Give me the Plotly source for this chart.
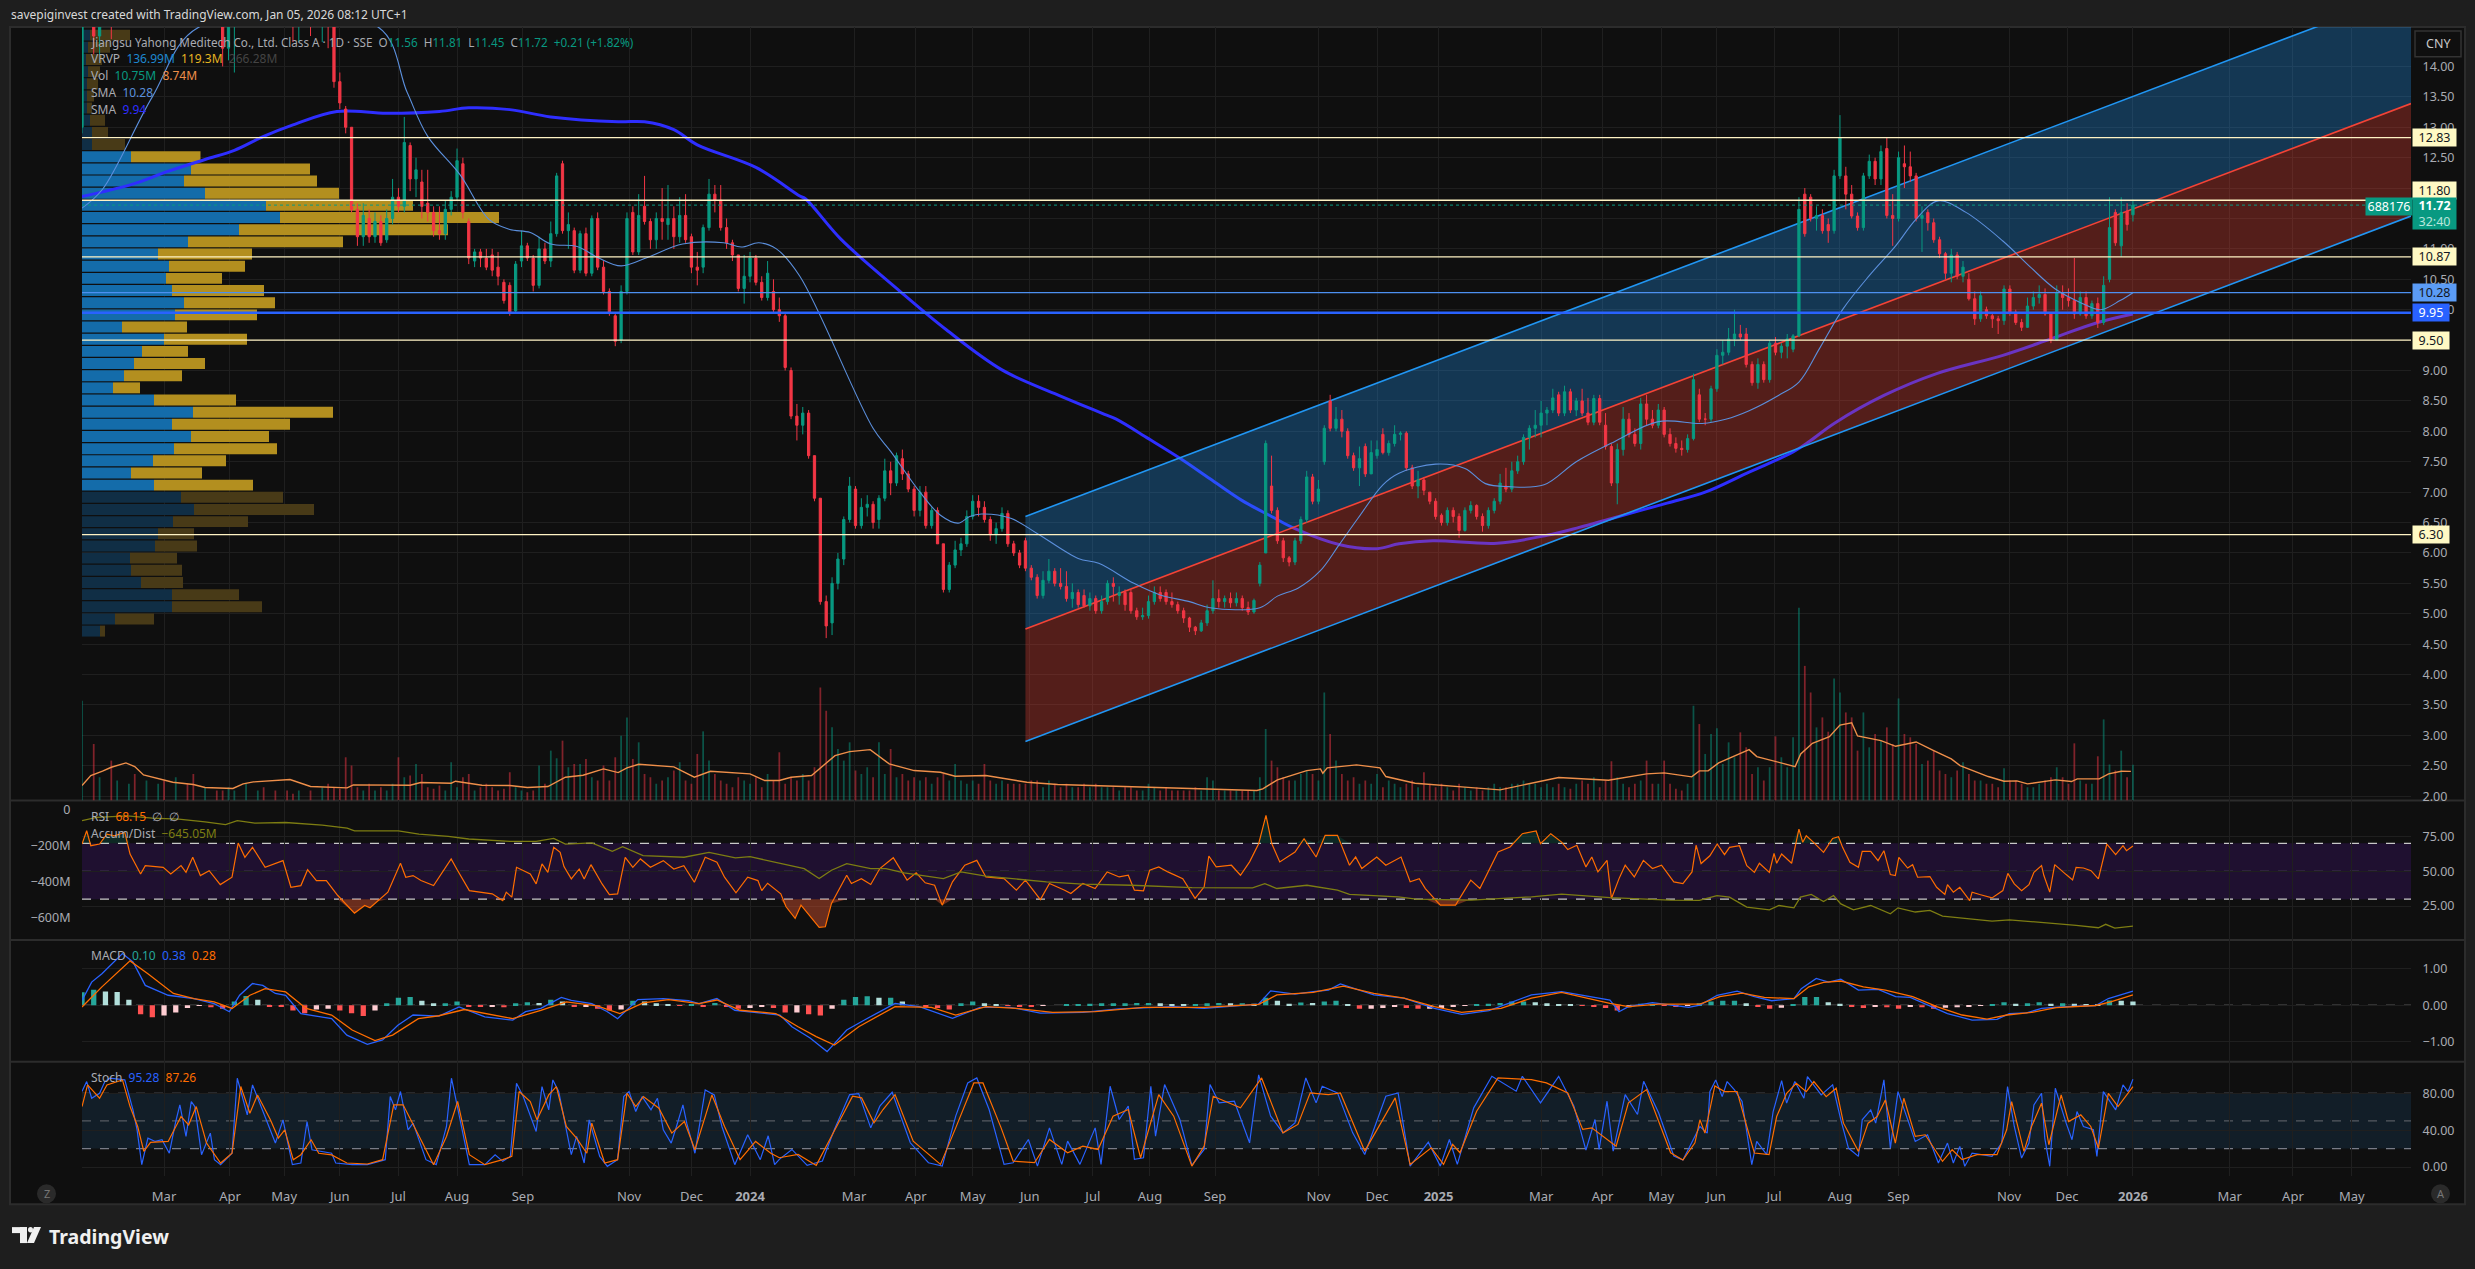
import plotly.graph_objects as go

W, H = 2475, 1269
def px(x): return x / W
def py(y): return 1 - y / H

# ---------- time axis ----------
tick_sessions = [28,50.5,69,88,108,128,150.5,186.7,208,228,263.5,284.6,304,323.5,345,364.5,386.7,422,442,463,498,519,539,557.7,577.5,600,620,657.7,677.5,700,733,754.6,774.7]
tick_labels = ["Mar","Apr","May","Jun","Jul","Aug","Sep","Nov","Dec","<b>2024</b>","Mar","Apr","May","Jun","Jul","Aug","Sep","Nov","Dec","<b>2025</b>","Mar","Apr","May","Jun","Jul","Aug","Sep","Nov","Dec","<b>2026</b>","Mar","Apr","May"]

# ---------- candles ----------
session = [0,4,6,10,12,16,18,22,26,28,32,36,38,42,46,48,50,52,56,60,62,66,70,72,74,78,82,84] + list(range(86, 702, 2))
open_ = [13,15.4,14.5,15.2,14.7,15.4,15.8,15.1,16,16.5,16.2,16.6,15.9,15.5,15.8,15,14.3,15,15.3,15.6,16.2,15.9,15.4,15.1,14.8,15.3,15,15.1,
14.9,13.75,13.3,13,11.65,11.2,11.5,11.2,11.45,11.15,
11.5,11.85,11.7,12.7,12.15,12.1,11.75,11.6,11.3,11.25,
11.65,11.85,12.4,11.45,10.8,10.95,10.85,10.9,10.7,10.45,
10.4,9.98,10.8,11.05,10.85,10.4,11,10.8,11.25,12.4,
11.3,11.3,10.65,11.25,10.6,11.5,10.7,10.3,9.9,9.5,
10.3,11.6,10.95,11.7,11.45,11.15,11.5,11.4,11.5,11.2,
11.55,11.2,10.7,10.7,11.35,11.9,11.8,11.35,11.1,10.9,
10.35,10.55,10.85,10.45,10.2,10.3,10,9.9,9,8.25,
8.1,8.3,7.6,6.9,5.2,4.85,5.5,5.9,6.55,7.05,
6.45,6.75,6.8,6.55,6.9,7.35,7.15,7.55,7.3,7.05,
6.7,7,6.45,6.7,6.15,5.4,5.8,6.05,6.15,6.6,
6.85,6.75,6.55,6.3,6.4,6.65,6.15,6,6.2,5.75,
5.6,5.3,5.55,5.7,5.5,5.45,5.25,5.35,5.3,5.13,
5.25,5.05,5.2,5.5,5.3,5.35,5.35,5.05,4.95,4.97,
5.2,5.35,5.35,5.2,5.15,5.05,4.93,4.78,4.72,4.85,
5.05,5.25,5.2,5.25,5.18,5.25,5.1,5.03,5.5,6,
7.1,6.7,6.2,5.92,5.85,6.2,6.55,7.25,6.85,7.5,
8.5,8.05,8.2,8,7.6,7.4,7.75,7.3,7.6,7.95,
7.65,7.8,7.95,7.97,7.4,7.1,7.2,7,6.85,6.62,
6.5,6.7,6.6,6.37,6.7,6.78,6.6,6.45,6.7,6.85,
7.1,7.05,7.35,7.5,7.9,8.05,8.1,8.3,8.35,8.6,
8.3,8.65,8.35,8.5,8.3,8.15,8.54,8.1,7.75,7.15,
7.7,8.2,7.95,7.8,8.45,8.2,8.1,8.35,7.95,7.8,
7.72,7.7,7.88,8.6,8.2,8.2,8.7,9.25,9.3,9.52,
9.6,9.6,9.1,8.8,9.1,8.85,9.45,9.3,9.4,9.35,
9.57,11.9,11.85,11.5,11.55,11.4,11.3,12.2,12.2,11.9,
11.54,11.35,12.2,12.44,12.15,12.65,11.55,11.5,12.4,12.35,
12.2,11.5,11.6,11.43,11.15,10.92,10.6,10.9,10.55,10.5,
10.18,9.85,10,9.9,9.85,9.82,10.34,9.96,9.79,9.71,
10.06,10.2,10.25,9.93,9.5,10.28,10.2,10.15,9.93,10.2,
9.9,10.1,9.79,10.5,11.6,11.05,11.62,11.56]
high = [15.5,16,15.8,15.8,15.6,16,16.2,16.4,16.8,17,16.9,17,16.4,16,16.2,15.6,15.2,15.6,16,16.5,16.8,16.2,15.8,15.4,15.6,15.7,15.5,15.6,
15.2,13.9,13.35,13,11.75,11.75,11.65,11.6,11.55,11.65,
12.15,12,13.17,12.75,12.5,12.3,12.3,11.7,11.7,11.8,
11.95,12.65,12.5,11.5,11,11,11,11,10.95,10.5,
10.45,10.8,11.3,11.1,10.9,11.2,11.1,11.45,12.25,12.45,
11.6,11.35,11.3,11.35,11.55,11.6,10.8,10.35,9.95,10.4,
11.6,11.7,11.9,12.2,11.5,11.6,12,12.05,11.7,11.85,
11.9,11.25,10.95,11.4,12.15,12.05,12.05,11.5,11.15,10.9,
10.9,10.95,10.9,10.55,10.8,10.5,10.2,9.95,9.05,8.45,
8.4,8.35,7.6,6.9,5.3,5.6,6,6.6,7.25,7.1,
6.9,6.95,6.85,6.95,7.55,7.5,7.65,7.7,7.35,7.1,
7.1,7.1,6.75,6.75,6.15,5.85,6.2,6.25,6.7,6.95,
6.95,6.85,6.6,6.5,6.75,6.7,6.2,6.05,6.25,5.8,
5.65,5.7,5.9,5.75,5.75,5.7,5.5,5.4,5.4,5.35,
5.3,5.3,5.55,5.6,5.45,5.4,5.4,5.1,5.1,5.3,
5.45,5.45,5.4,5.35,5.2,5.1,4.95,4.8,4.9,5.15,
5.55,5.4,5.3,5.35,5.35,5.3,5.2,5.25,5.85,7.85,
7.6,6.75,6.25,5.95,6.25,6.6,7.35,7.3,7.2,8.1,
8.6,8.4,8.35,8.05,7.65,7.75,7.8,7.85,7.85,8.05,
7.85,8.1,8,8,7.45,7.35,7.25,7,6.9,6.65,
6.75,6.75,6.65,6.75,6.85,6.8,6.65,6.75,6.9,7.3,
7.4,7.5,7.6,7.95,8.1,8.35,8.5,8.4,8.7,8.65,
8.75,8.7,8.55,8.7,8.55,8.6,8.6,8.3,7.8,7.8,
8.4,8.3,8.05,8.55,8.6,8.35,8.45,8.4,8.05,7.9,
7.85,7.95,8.95,8.7,8.3,8.75,9.35,9.5,9.7,10,
9.75,9.7,9.15,9.2,9.15,9.5,9.55,9.45,9.6,9.6,
11.85,12,11.9,11.7,11.65,11.5,12.3,13.2,12.35,12.05,
11.6,12.25,12.55,12.5,12.7,12.83,11.9,12.6,12.7,12.6,
12.25,11.7,11.65,11.5,11.2,10.95,11,10.95,10.8,10.6,
10.3,10.3,10.05,9.95,9.9,10.4,10.4,10,9.85,10.2,
10.3,10.4,10.35,9.95,10.4,10.4,10.35,10.85,10.3,10.3,
10.15,10.2,10.55,11.85,11.65,11.85,11.75,11.81]
low = [12.9,14.2,14.2,14.45,14.7,15.1,14.75,14.7,15.6,16,15.8,16,15.2,14.9,14.7,14,14.1,13.9,15,15.2,15.6,15.1,14.9,14.4,14.4,14.5,14.4,14.3,
13.65,13.3,12.9,11.6,11.05,11.05,11.1,11.1,11.05,11.1,
11.4,11.6,11.6,11.95,11.85,11.5,11.45,11.2,11.15,11.15,
11.55,11.8,11.5,10.75,10.7,10.7,10.65,10.55,10.4,10.1,
9.9,9.95,10.7,10.8,10.3,10.35,10.75,10.7,11.2,11.25,
11,10.6,10.6,10.55,10.55,10.65,10.25,9.9,9.4,9.45,
10.25,10.9,10.9,11.4,11,11,11.15,11.15,11,11.1,
11.1,10.6,10.4,10.6,11.3,11.6,11.3,11,10.8,10.3,
10.1,10.45,10.4,10.15,10.15,9.95,9.8,9,8.2,7.85,
7.95,7.55,6.85,5.15,4.6,4.65,5.4,5.8,6.5,6.4,
6.4,6.6,6.4,6.4,6.85,6.95,7.1,7.2,7,6.6,
6.6,6.4,6.4,6.15,5.35,5.35,5.75,5.95,6.1,6.55,
6.6,6.5,6.2,6.15,6.35,6.1,5.95,5.75,5.7,5.55,
5.25,5.25,5.5,5.45,5.4,5.2,5.1,5.1,5.1,5.05,
5,5,5.15,5.2,5.15,5.05,5,4.9,4.9,4.92,
5.15,5.2,5.15,5.1,5,4.85,4.7,4.65,4.7,4.8,
5,5.1,5.1,5.1,5.12,5.05,4.98,5,5.45,6,
6.65,6.15,5.85,5.78,5.8,6.15,6.5,6.8,6.8,7.45,
8,8,7.9,7.55,7.35,7.1,7.25,7.3,7.55,7.62,
7.6,7.75,7.85,7.35,7.05,6.9,6.95,6.8,6.55,6.45,
6.45,6.5,6.25,6.35,6.65,6.55,6.35,6.4,6.65,6.8,
7,7,7.3,7.45,7.7,7.9,7.9,8.1,8.3,8.25,
8.25,8.3,8.25,8.25,8.1,8.1,8.1,7.7,7.1,6.8,
7.6,7.9,7.75,7.7,8.1,8.05,8.05,7.9,7.75,7.65,
7.6,7.65,7.85,8.15,8.1,8.15,8.65,9.1,9.25,9.4,
9.5,9.05,8.75,8.7,8.8,8.8,9.25,9.2,9.2,9.3,
9.55,11.2,11.45,11.3,11.25,11.1,11.25,12.15,11.65,11.5,
11.3,11.3,12.15,12.05,12.05,11.5,11.05,11.45,12,12.1,
11.45,10.95,11.3,11.1,10.85,10.5,10.45,10.5,10.45,10.15,
9.75,9.8,9.85,9.7,9.6,9.75,9.9,9.75,9.65,9.7,
10,10.1,9.9,9.45,9.5,10,10.05,9.85,9.9,9.85,
9.85,9.7,9.75,10.45,11.05,10.87,11.3,11.45]
close = [15,14.5,15.2,14.7,15.4,15.8,15.1,16,16.5,16.2,16.6,15.9,15.5,15.8,15,14.3,15,15.3,15.6,16.2,15.9,15.4,15.1,14.8,15.3,15,15.1,14.9,
13.75,13.4,13,11.65,11.2,11.55,11.2,11.45,11.1,11.5,
11.85,11.7,12.75,12.15,12.3,11.7,11.6,11.3,11.25,11.65,
11.85,12.45,11.6,10.85,10.95,10.85,10.7,10.65,10.55,10.15,
9.95,10.75,11.05,10.85,10.4,11,10.8,11.25,12.2,11.3,
11.4,10.65,11.25,10.6,11.5,10.7,10.3,9.95,9.48,10.3,
11.5,10.95,11.55,11.45,11.15,11.5,11.45,11.5,11.2,11.55,
11.15,10.7,10.65,11.35,11.9,11.8,11.35,11.1,10.9,10.35,
10.55,10.85,10.45,10.2,10.6,10,9.9,9.05,8.25,8.1,
8.3,7.6,6.9,5.2,4.8,5.5,5.9,6.55,7.1,6.45,
6.75,6.8,6.5,6.9,7.35,7.15,7.6,7.3,7.05,6.7,
7,6.45,6.7,6.15,5.4,5.8,6.05,6.15,6.6,6.85,
6.75,6.55,6.3,6.4,6.65,6.15,6,5.8,5.75,5.6,
5.3,5.55,5.7,5.5,5.45,5.25,5.35,5.15,5.13,5.25,
5.05,5.2,5.5,5.45,5.35,5.15,5.05,4.95,4.97,5.2,
5.35,5.25,5.2,5.15,5.05,4.93,4.78,4.72,4.85,5.05,
5.25,5.2,5.25,5.18,5.25,5.1,5.03,5.22,5.8,7.8,
6.7,6.2,5.92,5.85,6.2,6.55,7.25,6.85,7.05,8.05,
8.05,8.2,8,7.6,7.4,7.55,7.3,7.65,7.7,7.65,
7.8,7.95,7.97,7.4,7.1,7.2,7.03,6.85,6.6,6.5,
6.7,6.6,6.37,6.7,6.78,6.6,6.45,6.7,6.85,7.15,
7.05,7.35,7.5,7.9,8.05,8.1,8.3,8.35,8.55,8.3,
8.65,8.35,8.5,8.3,8.15,8.54,8.15,7.75,7.15,7.7,
8.2,7.95,7.8,8.45,8.2,8.1,8.35,7.95,7.8,7.72,
7.7,7.88,8.85,8.2,8.2,8.7,9.25,9.3,9.52,9.6,
9.55,9.1,8.8,9.1,8.85,9.45,9.3,9.4,9.52,9.57,
11.65,11.25,11.5,11.55,11.3,11.3,12.2,12.83,11.9,11.54,
11.35,12.2,12.44,12.15,12.6,11.55,11.5,12.5,12.35,12.2,
11.5,11.55,11.43,11.15,10.92,10.6,10.9,10.55,10.7,10.18,
9.85,10.23,9.9,9.85,9.82,10.34,9.96,9.79,9.71,10.06,
10.2,10.25,9.93,9.5,10.28,10.2,10.15,9.93,10.2,9.9,
10.1,9.79,10.4,11.35,11.1,11.6,11.4,11.72]

# ---------- volume (millions), same sessions as the candles ----------
volume = [30,17,7,12,6,5,8,6,5,6,7,5,8,4,3,3,4,3,5,3,4,3,3,2,3,3,4,5,
4,3.5,13,10.5,4,3,5,3,4,3,
5,13,7,7.5,11,8,4,3.5,4.5,3,
11.5,4,7,8,3,4,5,4,3,3.5,
8.5,4,3,2.5,3,10.5,5,15,12.7,18,
10,11,11,12.5,7,6,10.5,6,13,19.5,
25,12.5,17.5,8,7,5,6,7,9,11.5,
6,5,14,20.8,12,8,6,5,4,7,
6,5,7,4,8,6,14.5,5,7,6,
8,6,10,34,27,22,15.5,12,17.5,9,
8,10,7,17.5,8,15.5,7,8,6,7,
6,7,5,7,8,6,11,6,5,6,
5,11,6,5,6,5,5,5,5,6,
6,4,6,5,4,5,4,4,5,4,
5,4,4,4,3,4,4,3,3,5,
4,3,4,3,3,3,3,4,3,7,
6,3,3,3,3,3,3,3,7,21.5,
12,10,7,6,6,8,9,8,6,32.5,
20,12,8,6,7,5,6,5,8,4,
6,5,4,5,6,4,8.5,5,4,5,
4,3,5,4,3,4,3,4,5,4,
4,5,5,6,5,5,4,5,4,5,
4,3.5,5,6,5,7,4,6,11.8,7,
5,4,5,6,12,5,5,12,5,3.5,
3,5,28.5,23,14,20,21.7,11,17.5,13,
20.5,16,8,10,6,10,19.3,13,10,19,
58,40.5,32.5,22,25,20.7,36.7,32.5,26.5,25,
15,26.5,16,20,18,22,17,30.7,20,19,
17,11,12,15,9,8,7,9,11.5,8,
6,6,5,5,4,9.7,6,6,5,4,
4,5,6,7,10,7,5,17.2,6,5,
5,13.3,24.4,10.8,9,15,7,10.75]

vol_sma_session = [0,3,7,10,15,18,21,27,31,38,42,51.5,55,58.5,71,78,90.5,92.6,108.6,112,115.6,126,127.5,132,136.5,146,152,159,165,171,178,183,186,190,202,209,214.5,228,233,238,242,249,257,262,269,275.5,284,293,298,308.5,322.5,333,354,376.5,401,403,408,418,422.7,423.5,425,435,443,445,455,472,484,504,521,534,540,549.4,552,555,558.6,569,571.6,584.7,586.6,590.6,596.4,600,604,606,614,619,626,632,638,641,650.6,656,660.4,664,673.5,679,681,688.5,691.7,696,699.3]
vol_sma = [4.5,7.5,8.8,10,11.3,10.2,7.7,6.5,5.5,4.8,3.9,3.6,5,5.6,6.3,4.2,3.8,4.7,4.8,4.6,5.4,5.2,5.8,5.3,4.6,4.5,3.9,4.2,7,7.6,9.5,8.4,9.8,10.9,10.1,7,8.8,8,6,6,7,7.5,13.5,14.7,15.3,11,9,8.5,7.3,7.5,5.5,4.8,4.2,3.5,3,3.5,6.2,9,9.5,8.2,9.8,10.7,9.8,7.2,5.2,4,3.2,6.9,6.1,8,8.3,7.1,8.9,8.9,11.3,15.3,13.2,10.2,14,17.2,19.2,22.7,23.4,19.4,18,16.3,17.6,15,12.5,10.5,7.2,5.8,5.9,5,6.2,5.7,6.5,6.5,8,8.8,8.74]

# ---------- moving averages ----------
sma_fast_session = [0,7,24,40,101,111,118,129,139,146,153,160,169,176,184,193,205,219,225,231,237,245,270,276,286,293,299,303,307,317,326,340,347,359,368,378,385,402,408,415,422.5,429,435.5,444,449.5,462,472,479,487,499,510,523,538,553,561,569,579,586,593,601,610,619,626,633.5,643,655.6,665,673.5,682,689,695.6,700]
sma_fast = [11.67,11.98,13.5,14.65,14.65,13.57,12.85,12.22,11.48,11.32,11.27,11.08,11.04,10.86,10.72,10.86,11.08,11.1,11.03,11.1,11,10.55,8.05,7.67,7,6.62,6.49,6.6,6.64,6.57,6.32,5.91,5.83,5.5,5.31,5.2,5.1,5.1,5.29,5.42,5.7,6.13,6.57,7.12,7.31,7.46,7.39,7.14,7.09,7.12,7.5,7.83,8.16,8.13,8.2,8.34,8.59,8.81,9.36,10.01,10.56,11.05,11.49,11.79,11.6,11.13,10.7,10.34,10.12,10,10.15,10.28]
sma_slow_session = [0,17,29,42,52,62,72,87,104,122,132,146,160,183,192,202,210,230,245,247,259,279,295,314,333,349,353,364,375,385,396,406,414,429,442,449.5,461,483,500,511,523,541,554,569,584,590,598,615,633,655.6,672,688,700]
sma_slow = [11.86,12.06,12.27,12.47,12.62,12.85,13.04,13.26,13.23,13.26,13.32,13.29,13.17,13.09,13.09,12.96,12.71,12.34,11.87,11.82,11.16,10.31,9.67,9.01,8.6,8.28,8.2,7.88,7.55,7.22,6.86,6.6,6.4,6.14,6.07,6.15,6.2,6.16,6.29,6.42,6.58,6.82,7,7.33,7.66,7.85,8.13,8.59,8.95,9.25,9.52,9.79,9.93]

# ---------- regression channel ----------
channel_session = [322, 794.9]
channel_top = [6.60, 15.24]
channel_mid = [4.75, 13.39]
channel_low = [2.90, 11.54]

# ---------- horizontal levels ----------
cream_levels = [12.83, 11.80, 10.87, 9.50, 6.30]
level_fast = 10.28
level_slow = 9.95
last_price = 11.72

# ---------- visible range volume profile ----------
vp_price = [14.515,14.315,14.115,13.915,13.715,13.515,13.315,13.115,12.915,12.715,12.515,12.315,12.115,11.915,11.715,11.515,11.315,11.115,10.915,10.715,10.515,10.315,10.115,9.915,9.715,9.515,9.315,9.115,8.915,8.715,8.515,8.315,8.115,7.915,7.715,7.515,7.315,7.115,6.915,6.715,6.515,6.315,6.115,5.915,5.715,5.515,5.315,5.115,4.915,4.715]
vp_up = [8,6,4,6,5,5,5,8,10,10,49,109,102,123,184,198,157,106,76,87,84,90,102,93,40,82,60,52,42,31,72,111,90,109,92,71,49,72,99,112,91,76,73,48,49,59,90,90,33,18]
vp_down = [40,22,16,12,11,7,5,15,16,33,69.5,119,133,134,147,219,209,155,94,76,56,92,91,82,65,83,46,71,58,27,82,140,118,78,103,73,71,99,102,120,75,36,42,47,51,42,67,90,39,5]
vp_area_first, vp_area_last = 10, 37

# ---------- RSI ----------
rsi_session = [0,1.6,3,6,8.5,11,14.6,16.4,20,21.6,27.7,30.3,33.8,35.5,37.8,40.4,43.4,47.2,51.2,53.3,55.6,58.2,62.5,68.6,71.3,74.7,77,80,83.4,87.3,93,96.5,98.3,100.9,104.4,108.7,110.5,113,115.7,120,126,127.9,132.2,140,143.6,144.8,146.7,148.3,153,155,157,159,161,163.2,164.5,167,169.7,171.4,173.7,177.5,180,182.8,185.4,188,190.6,194,198.4,202,205.4,209,212.7,216.7,219.3,223.2,227.2,230.7,232,234,238.5,240.3,243.4,245.4,251.6,253.7,255.8,261,262.6,266,269.2,272.3,276.9,281.6,284.7,287.8,291,293.6,297.1,301.3,305.4,308.5,314.7,318.9,322,327.1,330.2,335.4,337.5,341.6,345.8,349.9,354,357.1,359.2,362.3,364.4,367.5,370.6,375.7,379.9,383,384.6,387.1,392.3,395.4,398.5,401.6,404.1,406.1,408.8,414,417.1,421.2,424.3,428.5,432.6,434.7,436.8,441.9,445,450.2,453.3,456.4,458.5,463.6,468.8,474,477.1,483.3,487.4,491.6,496.3,497.8,501.3,505,507.1,510.2,513.3,515.3,517.4,520.5,522,524.6,526.7,529.8,532.9,536,539.1,543.3,546.4,549.5,550.9,552.6,555.6,558.1,560.6,562.3,565.7,568.2,570.8,572.5,575.9,577.5,578.4,580.1,583.5,586,587.3,588.5,591,594.4,597.5,599.5,600.9,603.4,606.3,607.6,610.5,613,615,617.2,618.9,620.1,623.1,624.8,626.5,630.7,633,635.8,636.7,638.7,640.9,644.3,645.1,647.7,651.9,655.6,657.3,659.5,662,664.5,666.2,668.8,669.6,671.6,673.3,677.2,679.4,680.6,683.1,685.7,688.2,691.1,694.1,696.6,697.8,700]
rsi = [69.5,79,68.3,69.5,76.6,75.4,77.8,62.3,48,54,52.8,48,54,49.2,60,46.9,50.4,40.4,45.7,70.2,60,67.1,52.8,57.6,38.5,39.7,51.1,43.3,43.3,32.6,20,25.4,23.8,28.5,35,55.7,45.7,46.9,43.3,39.7,58.8,51.6,36.1,33.8,29,35,31.4,52.8,48,40.9,55.2,49.2,67.1,63.5,53.3,44.5,51.6,44.5,54.7,40.9,33.3,33.8,60,52.8,58.8,52.8,57.6,51.6,54,42.1,60,56.4,45.7,34.5,45.7,43.3,36.1,41.4,33.8,24.5,16.2,25.7,9.7,10.2,26.9,47.1,41.2,44.7,40.5,51.9,59.7,43.6,48.8,41.7,40,25.7,42.4,54.3,57.8,45.9,44.7,36.4,43.6,29.7,41.2,36.4,34,41.2,37.6,49.5,45.9,47.1,36.4,35.9,50.7,53.1,49.5,44.7,30.5,38.8,60.9,53.1,54.3,47.1,56.7,69.7,90,69.7,56.7,63.8,73.3,60.2,75.7,75.7,54.3,60.2,51.9,60.2,54.3,60.2,42.4,44.7,37.6,25.7,25.7,43.6,37.6,63.8,67.4,76.9,78.8,69.7,76.9,70.9,65.5,68.6,53.1,60.2,49.5,57.8,30.5,44.7,54.3,45.9,57.8,51.9,54.3,42.4,41.2,49.5,68.6,55.5,61.1,69.5,61.9,67.1,68.3,54,49.2,55.7,49.2,62.8,55.7,62.3,55.7,80.2,70.7,75.4,70.7,63.5,73.5,74.7,67.1,56.4,52.8,64.2,64.2,57.6,64.7,47.6,46.9,60,52.3,54.7,45.7,46.2,38.5,33.3,40.4,35,38.5,29,35,33.3,30.9,36.1,48.5,40.9,36.1,40.4,49.2,54,46.9,35,54.7,47.6,43.8,52.8,52.3,50.4,44.5,69.5,61.9,68.3,64.7,68.15]

# ---------- accumulation / distribution (millions) ----------
ad_session = [0,5,15.5,24,33,42,49,53,59,69.5,82,90.5,93,108,115,125,132,146,155,161,165,174,181,184.5,191.5,205.5,214,223,228,237,246.5,251.6,255.8,261,269.2,274.4,280.6,294,300,308.5,316.8,329.2,341.6,358.2,378.8,399.5,403.7,407.8,418.1,428.5,432.6,449.2,455.4,474,494.7,505,521.5,542,552,558,562.3,568.2,575.9,579.2,584.3,586.5,590.2,594.4,597.8,600.3,604.6,610.5,617.2,619.8,625.7,630.7,635,643.4,651.9,657.8,670.4,680.6,688.2,690.7,693.8,700]
ad = [-62,-44,-35,-48,-53,-68,-84,-62,-75,-72,-86,-103,-118,-118,-136,-149,-163,-176,-176,-160,-191,-185,-231,-206,-255,-264,-237,-268,-261,-292,-327,-382,-336,-299,-327,-327,-351,-382,-345,-369,-382,-400,-413,-419,-432,-433,-410,-437,-419,-446,-470,-483,-496,-501,-483,-468,-487,-501,-503,-476,-485,-540,-555,-531,-544,-485,-470,-509,-476,-522,-555,-531,-577,-544,-567,-558,-590,-604,-617,-610,-626,-641,-654,-635,-656,-645.05]

# ---------- MACD ----------
macd_session = [0,3.3,6.8,13.8,17.4,21.6,29.4,38.2,45.1,50.3,53.8,58.2,61.7,66,69.5,74.7,85.2,90.4,97.4,102.6,107.8,113,121.8,128.7,137.5,147,151.4,156.6,163.6,167,174,179.3,182.8,189.7,198.4,207,210.6,216.7,222.8,238.2,242.3,248.5,254.3,261,267.2,277.5,285.8,297.1,306.5,316.8,327.1,341.6,354,372.6,383,401.6,405.7,414,420.2,425.4,429.5,440.9,451.2,461.6,470.9,480.2,494.7,505,521.5,524.6,527.8,536,548.4,552.2,558.1,564.9,570.8,576.7,584.3,586.8,591.9,596.1,600.3,606.3,613,619,624,630,636.7,645.1,653.6,657.8,663.7,668.8,675.5,687.3,691.6,700]
macd = [.13,.63,.86,1.41,1.18,.54,.27,.18,.04,-.18,.27,.59,.54,.32,.27,-.23,-.37,-.82,-1.07,-.95,-.55,-.27,-.3,-.05,-.32,-.41,-.18,-.09,.21,.13,.04,-.18,-.37,.15,.18,.12,.04,.18,-.14,-.27,-.59,-.9,-1.27,-.68,-.4,.05,-.04,-.36,-.06,-.06,-.22,-.2,-.1,-.04,-.09,.03,.39,.3,.37,.41,.58,.28,.19,-.09,-.25,-.15,.28,.37,.14,-.18,-.04,.07,-.06,0,.27,.38,.23,.12,.18,.45,.73,.63,.71,.41,.43,.23,.21,0,-.23,-.41,-.39,-.23,-.21,-.09,-.05,-.01,.18,.38]
signal_session = [0,6.8,16.4,22.5,31.2,38.2,45.1,51.2,57.3,62.5,69.5,76.5,85.2,92.2,100,106,114.8,121.8,130.5,147,156.6,165.3,175.8,183.6,191.5,200.2,210.6,216.7,224.6,236.8,244.4,250.6,256.8,265.1,277.5,289.9,298.2,308.5,318.9,331.3,345.8,362.3,383,401.6,407.8,420.2,430.5,440.9,451.2,461.6,470.9,484.3,494.7,505,521.5,527.8,538.2,552.2,559,566.6,574.2,584.3,589.4,594.4,600.3,608,615.5,624.8,633.3,641.7,650.2,657,665.4,673.8,687.3,692.4,700]
signal = [-.05,.5,1.21,.86,.32,.18,.09,-.09,.27,.45,.36,-.09,-.27,-.68,-.97,-.82,-.37,-.29,-.12,-.37,-.14,.09,-.02,-.23,.06,.15,.04,.14,-.14,-.23,-.59,-.86,-1.09,-.59,-.04,-.06,-.27,-.04,-.09,-.2,-.18,-.06,-.06,.02,.28,.35,.52,.32,.19,-.04,-.2,-.09,.19,.35,.05,-.04,.03,.03,.23,.33,.21,.18,.5,.62,.66,.5,.41,.23,-.05,-.27,-.38,-.27,-.2,-.07,-.01,.09,.28]
hist_session = list(range(0, 701, 4))
hist = [.35,.42,.37,.36,.15,-.25,-.33,-.28,-.2,-.08,-.02,-.06,-.1,.1,.25,.15,-.03,-.05,-.15,-.22,-.12,-.1,-.15,-.22,-.3,-.15,.05,.2,.22,.12,.05,.05,.1,-.03,-.05,-.05,-.06,.05,.08,.06,.15,.1,-.05,-.04,-.1,-.15,-.12,.12,.1,.05,.03,-.02,.02,-.04,.06,-.05,-.1,-.08,-.05,-.08,-.2,-.2,-.25,-.28,-.1,.15,.22,.24,.2,.2,.1,0,-.04,-.08,-.12,.05,.1,.05,.02,-.02,-.04,-.05,-.02,0,.02,.02,.04,.05,.05,.05,.06,.06,.05,.03,.01,.02,.05,.06,.05,.05,.04,.2,.12,.04,.07,.06,.1,.12,.03,-.1,-.1,-.08,-.05,-.08,-.1,-.1,-.08,-.05,-.02,.02,.04,.06,.1,.1,.08,.05,.03,.02,-.02,-.05,-.08,-.15,-.06,.04,.04,-.02,-.05,-.02,.05,.1,.12,.12,.05,-.05,-.1,-.07,.02,.22,.22,.08,.04,-.05,-.08,-.05,-.06,-.1,-.05,-.06,-.1,-.07,-.06,-.03,-.02,.02,.08,.04,.05,.08,.04,.05,.04,.03,.02,.13,.12,.1]

# ---------- stochastic ----------
stoch_k_session = [0,1.6,3.3,6,7.8,9.5,14.6,17.4,18.8,20.4,22.5,25,27.3,29.8,32,33.4,35.5,37.3,38.5,40.8,43.8,45.2,47.3,51.2,53,56.4,58.2,62.5,66,68.6,71.8,74.7,76.8,78.5,85.2,86.6,92.2,97.4,103.5,105.2,107,108.7,111.3,113,117.4,120.9,124.4,126.1,128.7,132.2,137.5,141,143.6,146.2,148.3,150.6,155,157,159.3,160.7,162.7,167,168.8,171.4,173.1,176.7,179.3,182.8,184.9,186.7,189,191.2,194.2,196.4,198.4,201.1,202.9,205.1,206.4,209.2,212.7,215.8,218.4,222.8,227.2,231.5,234.2,236.4,238,242.3,247.5,252.7,256.8,262,265.1,269.2,272.3,276.5,282.7,288.9,293.6,298.2,302.3,305.4,309.6,314.7,317.8,323,326.1,330.2,334.4,336.4,340.6,345.8,347.8,350.9,354,357.1,359.2,362.3,364.8,366.4,369.5,374.7,378.8,383,385,388.1,393.3,398.5,401.6,405.7,409.9,414,417.7,421.2,423.3,428.5,433.7,437.8,445,449.2,453.3,459.5,463.6,466.7,469.4,475,481.2,489.5,491.6,497.8,504,509.2,513.3,516.4,517.8,520.5,522.6,526.7,530.9,533,538.1,543.3,546.4,549.5,552.2,554.7,555.6,557.6,559.8,561.5,564,566.6,569.9,571.6,575,577.2,580.1,581.8,584.6,587.7,588.9,593.6,597.5,600.3,602.9,606.3,607.6,610.5,612.2,615,617.2,619.8,623.1,625.7,629.9,633.6,636.7,638.7,640.9,642.6,645.1,651.9,655.2,657.2,659.5,662,664.5,666.2,668.8,669.9,671.6,673.5,677.2,679.2,680.9,683.1,686.5,687.7,689.9,694.1,696.6,698.3,700]
stoch_k = [81.9,92.7,74.6,80,92.7,96.3,94.5,62,40.4,2.6,31.4,27.8,29.6,15,49.4,67.5,33.2,71.1,65.6,13.4,36.8,8,2.6,15,96.3,56.6,89.1,54.8,26,51.2,2.6,4.4,49.4,18.8,15,4.4,2.6,2.6,8,76.4,62,81.9,40.4,47.6,8,2.6,44,96.3,54.8,2.6,2.6,13.4,6.2,11.6,90.9,76.4,38.6,87.3,62,94.5,81.9,13.4,33.2,4.4,51.2,11.6,.8,8,76.4,81.9,60.2,76.4,62,74.6,40.4,26,44,67.5,47.6,15,83.7,78.2,44,2.6,35,8,33.9,2.6,8.3,19.1,1.8,6.5,40.8,78.6,79.7,42.5,66,81.1,26.3,4.7,1,55.2,91.2,96.6,62.4,2.9,4.7,29.9,1,42.5,2.9,28.1,2.9,42.5,2.9,87.6,51.6,66,8.3,10.1,87.6,33.5,89.4,51.6,1.8,19.1,89.4,69.6,71.4,26.3,100,55.2,37.1,47.9,96.6,69.6,87.6,80.4,37.1,13.7,76.8,80.4,1,27,1,29.9,2.9,64.2,98.4,82.2,98.4,69.6,98.4,66,18.4,51.6,19.1,71.4,17.3,78.6,57,93,58.8,12,7.6,26.3,44,36.8,81.8,94.5,76.4,92.7,83.7,71.1,2.6,27.8,13.4,60.2,93.7,69.3,92.7,74.6,98.1,78.2,89.1,51.2,20.6,11.6,51.2,62,47.6,94.5,20.6,81.8,51.2,27.8,35,4.4,26,4.4,22.4,.8,15.2,11.6,26,87.3,44,9.8,26,67.4,80,31.4,.8,85.5,47.6,29.6,60.2,44,40.4,11.6,81.8,62,89.1,81.8,95.28]
stoch_d_session = [0,1.9,6,8.5,13.8,16.4,19,21.1,23.4,29.4,33.8,36.4,39,42.5,47.3,51.2,54.2,57.3,59.9,64.3,67,69.2,72.1,74.7,78.2,80.8,85.2,90.4,97.4,102.6,106.4,109.6,114.8,120,124.4,128.2,132.2,137.5,143.6,146.7,149.2,153,155.3,159.3,161.9,165.3,168.8,172.3,174,178.4,182.8,186,189,191.6,196.9,201.3,205.6,209.2,215,219.3,224.6,229.9,235.1,238,244.4,250.6,255.8,263,266.1,270.3,273.4,277.5,283.7,293,298.2,304.4,307.5,313.7,317.8,325.1,330.2,336.4,341.6,346.8,351.9,357.1,361.3,367.5,372.6,378.8,383,386.1,395.4,402.6,409.9,415,419.2,425.4,429.5,437.8,448.2,453.3,460.5,464.7,467.8,470.3,476,483.3,494.7,499.8,507.1,512.2,515.3,523.6,527.8,534,542.2,546.4,550.5,552.2,553.9,557.3,560.6,564.9,568.2,570.8,575.8,578.4,581.8,585.1,588.5,591.1,595.3,598.7,601.2,606.3,609.6,612.7,615.5,618.9,621.8,625.7,629.1,635,638.3,641.7,646.8,653.6,656.9,658.6,662.8,665.4,668.8,671.3,675.5,678,682.2,685.6,688.2,691.6,694.9,700]
stoch_d = [65.6,89.1,74.6,89.1,94.5,65.6,44,17,26.7,27.8,54.8,45.8,65.6,26,4.4,15,87.3,58.4,78.2,51.2,31.4,40.4,8,13.4,29.6,15,13.2,4.4,3.3,8,67.5,67.5,35,2.6,33.2,71.1,13.4,2.6,8,11.6,81.9,71.1,51.2,78.2,87.3,44,31.4,15,47.6,4.4,8,80,65.6,76.4,63.8,36.8,49.4,18.8,78.2,44,8,27.8,15,10.1,13.7,1.8,33.5,76.8,75,47.9,62.4,78.6,28.1,2.9,42.5,91.2,91.2,42.5,6.5,4.7,29.9,15.5,22.7,19.1,55.2,62.4,10.1,78.6,55.2,1,22.7,76.8,64.2,96.6,37.1,46.2,80.4,78.6,80.4,17.3,75,2.9,20.9,2.9,24.5,15.5,60.6,96.6,94.8,91.2,80.4,40.8,42.5,22.7,69.6,84,15.5,7.6,26.3,51.2,36.8,88,81.8,81.8,44,15.2,13.4,54.8,80,90.9,81.8,92.7,76.4,85.5,47.6,17,47.6,54.8,72.8,26,74.6,33.2,35,6.2,18.8,8,13.4,13.4,40.4,71,17,44,69.3,24.2,78.2,49.4,56.6,44,20.6,80,65.6,87.26]

# ---------- colours ----------
UP, DOWN = "#089981", "#f23645"
TXT, GRID = "#a9abb2", "#1f1f1f"
GOLD_B, BLUE_B, GOLD_D, BLUE_D = "#b38f1f", "#146caa", "#483a17", "#102e45"
FONT = "Noto Sans"
XMAX = 794.9
PX_PER_SESSION = 2329 / XMAX

fig = go.Figure()

# profile rows, below everything else in the main pane
rows = range(len(vp_price))
vp_up_w = [v / PX_PER_SESSION for v in vp_up]
vp_down_w = [v / PX_PER_SESSION for v in vp_down]
in_area = [vp_area_first <= i <= vp_area_last for i in rows]
fig.add_trace(go.Bar(y=vp_price, x=vp_up_w, orientation="h", width=0.18,
                     marker=dict(color=[BLUE_B if a else BLUE_D for a in in_area], line_width=0),
                     xaxis="x", yaxis="y"))
fig.add_trace(go.Bar(y=vp_price, x=vp_down_w, base=vp_up_w, orientation="h", width=0.18,
                     marker=dict(color=[GOLD_B if a else GOLD_D for a in in_area], line_width=0),
                     xaxis="x", yaxis="y"))

# slow SMA under the channel, so that the channel tints it
fig.add_trace(go.Scatter(x=sma_slow_session, y=sma_slow, mode="lines", line=dict(color="#2e2eff", width=3, shape="spline"), xaxis="x", yaxis="y"))

# channel
fig.add_trace(go.Scatter(x=channel_session, y=channel_low, mode="lines", line=dict(color="#2196f3", width=1.6), xaxis="x", yaxis="y"))
fig.add_trace(go.Scatter(x=channel_session, y=channel_mid, mode="lines", line=dict(color="#f44336", width=1.6), fill="tonexty", fillcolor="rgba(244,67,54,0.3)", xaxis="x", yaxis="y"))
fig.add_trace(go.Scatter(x=channel_session, y=channel_top, mode="lines", line=dict(color="#2196f3", width=1.6), fill="tonexty", fillcolor="rgba(33,150,243,0.3)", xaxis="x", yaxis="y"))

# volume
n = len(session)
vol_color = ["rgba(8,153,129,0.5)" if close[i] >= open_[i] else "rgba(242,54,69,0.5)" for i in range(n)]
fig.add_trace(go.Bar(x=session, y=volume, width=0.6, marker=dict(color=vol_color, line_width=0), xaxis="x", yaxis="y2"))
fig.add_trace(go.Scatter(x=vol_sma_session, y=vol_sma, mode="lines", line=dict(color="#ef8f4a", width=1.4), xaxis="x", yaxis="y2"))

# candles
fig.add_trace(go.Candlestick(x=session, open=open_, high=high, low=low, close=close,
                             increasing=dict(line=dict(color=UP, width=1), fillcolor=UP),
                             decreasing=dict(line=dict(color=DOWN, width=1), fillcolor=DOWN),
                             whiskerwidth=0, xaxis="x", yaxis="y3"))

# fast SMA
fig.add_trace(go.Scatter(x=sma_fast_session, y=sma_fast, mode="lines", line=dict(color="#5b8fdc", width=1.1, shape="spline"), xaxis="x", yaxis="y4"))

# RSI + A/D
r_low = [min(v, 30) for v in rsi]
r_high = [max(v, 70) for v in rsi]
fig.add_trace(go.Scatter(x=rsi_session, y=[30] * len(rsi), mode="lines", line=dict(width=0), xaxis="x", yaxis="y5"))
fig.add_trace(go.Scatter(x=rsi_session, y=r_low, mode="lines", line=dict(width=0), fill="tonexty", fillcolor="rgba(242,90,50,0.4)", xaxis="x", yaxis="y5"))
fig.add_trace(go.Scatter(x=rsi_session, y=[70] * len(rsi), mode="lines", line=dict(width=0), xaxis="x", yaxis="y5"))
fig.add_trace(go.Scatter(x=rsi_session, y=r_high, mode="lines", line=dict(width=0), fill="tonexty", fillcolor="rgba(8,153,129,0.18)", xaxis="x", yaxis="y5"))
fig.add_trace(go.Scatter(x=rsi_session, y=rsi, mode="lines", line=dict(color="#ff6d00", width=1.2), xaxis="x", yaxis="y5"))
fig.add_trace(go.Scatter(x=ad_session, y=ad, mode="lines", line=dict(color="#7d7d12", width=1.3), xaxis="x", yaxis="y6"))

# MACD
h_color = []
for i, v in enumerate(hist):
    prev = hist[i - 1] if i else 0
    if v >= 0:
        h_color.append("#26a69a" if v >= prev else "#b2dfdb")
    else:
        h_color.append("#ffcdd2" if v >= prev else "#ff5252")
fig.add_trace(go.Bar(x=hist_session, y=hist, width=1.8, marker=dict(color=h_color, line_width=0), xaxis="x", yaxis="y7"))
fig.add_trace(go.Scatter(x=macd_session, y=macd, mode="lines", line=dict(color="#2962ff", width=1.3), xaxis="x", yaxis="y7"))
fig.add_trace(go.Scatter(x=signal_session, y=signal, mode="lines", line=dict(color="#ff6d00", width=1.3), xaxis="x", yaxis="y7"))

# Stochastic
fig.add_trace(go.Scatter(x=stoch_k_session, y=stoch_k, mode="lines", line=dict(color="#2962ff", width=1.2), xaxis="x", yaxis="y8"))
fig.add_trace(go.Scatter(x=stoch_d_session, y=stoch_d, mode="lines", line=dict(color="#ff6d00", width=1.2), xaxis="x", yaxis="y8"))

# ---------- axes ----------
def dom(top, bottom):
    return [1 - bottom / H, 1 - top / H]

MAIN_RANGE = [1.93, 14.65]
VOL_RANGE = [0, 232.8]
main_ticks = [2 + 0.5 * i for i in range(25)]
tickfont = dict(family=FONT, size=12.5, color=TXT)
common_y = dict(anchor="x", side="right", zeroline=False, showline=False, gridcolor=GRID, gridwidth=1,
                ticks="outside", ticklen=8, tickcolor="rgba(0,0,0,0)", tickfont=tickfont, tickformat=".2f")

layout = dict(
    width=W, height=H, margin=dict(l=0, r=0, t=0, b=0), autosize=False,
    paper_bgcolor="#1e1e1e", plot_bgcolor="rgba(0,0,0,0)", showlegend=False, barmode="overlay", boxgap=0.45,
    hovermode=False, font=dict(family=FONT, color=TXT),
    xaxis=dict(domain=[px(82), px(2411)], range=[0, XMAX], anchor="y8", tickmode="array", tickvals=tick_sessions,
               ticktext=tick_labels, tickfont=dict(family=FONT, size=13, color=TXT), showgrid=True, gridcolor=GRID,
               zeroline=False, showline=False, ticks="outside", ticklen=8, tickcolor="rgba(0,0,0,0)",
               rangeslider=dict(visible=False), tickangle=0),
    yaxis=dict(domain=dom(27, 803), range=MAIN_RANGE, tickmode="array", tickvals=main_ticks, **common_y),
    yaxis2=dict(overlaying="y", range=VOL_RANGE, visible=False, anchor="x"),
    yaxis3=dict(overlaying="y", range=MAIN_RANGE, visible=False, anchor="x"),
    yaxis4=dict(overlaying="y", range=MAIN_RANGE, visible=False, anchor="x"),
    yaxis5=dict(domain=dom(803, 943), range=[0.7, 100.7], tickmode="array", tickvals=[25, 50, 75], **common_y),
    yaxis6=dict(overlaying="y5", range=[-722, 50], side="left", anchor="x", tickmode="array",
                tickvals=[0, -200, -400, -600], ticktext=["0", "−200M", "−400M", "−600M"], showgrid=False, zeroline=False,
                ticks="outside", ticklen=8, tickcolor="rgba(0,0,0,0)", tickfont=tickfont),
    yaxis7=dict(domain=dom(943, 1065), range=[-1.545, 1.78], tickmode="array", tickvals=[-1, 0, 1],
                ticktext=["−1.00", "0.00", "1.00"], **common_y),
    yaxis8=dict(domain=dom(1065, 1180), range=[-10, 114.3], tickmode="array", tickvals=[0, 40, 80], **common_y),
)
fig.update_layout(**layout)

# ---------- decoration ----------
shapes = []
def rect(x0, y0, x1, y1, **kw):
    shapes.append(dict(type="rect", xref="paper", yref="paper", x0=px(x0), x1=px(x1), y0=py(y0), y1=py(y1), **kw))

rect(10, 27, 2465, 1208, fillcolor="#0f0f0f", line=dict(color="#2c2c2c", width=2), layer="below")
for yy in (803, 943, 1065):
    shapes.append(dict(type="line", xref="paper", yref="paper", x0=px(10), x1=px(2465), y0=py(yy), y1=py(yy),
                       line=dict(color="#2c2c2c", width=2), layer="below"))

def band(yref, a, b, color):
    shapes.append(dict(type="rect", xref="x domain", yref=yref, x0=0, x1=1, y0=a, y1=b, fillcolor=color, line_width=0, layer="below"))
def hline(yref, v, color, width, dash="solid", layer="above"):
    shapes.append(dict(type="line", xref="x domain", yref=yref, x0=0, x1=1, y0=v, y1=v, line=dict(color=color, width=width, dash=dash), layer=layer))

band("y5", 30, 70, "#1f1030")
hline("y5", 70, "#c8c8c8", 1.2, "dash", "below")
hline("y5", 50, "#5f5a68", 1.2, "dash", "below")
hline("y5", 30, "#c8c8c8", 1.2, "dash", "below")
band("y8", 20, 80, "#121e28")
hline("y8", 80, "#787b86", 1.2, "dash", "below")
hline("y8", 50, "#555a60", 1.2, "dash", "below")
hline("y8", 20, "#787b86", 1.2, "dash", "below")
hline("y7", 0, "#555555", 1.2, "dash", "below")

for lv in cream_levels:
    hline("y", lv, "#fff3c4", 1.3)
hline("y", level_fast, "#4d90f0", 1.3)
hline("y", level_slow, "#2962ff", 2.6)
hline("y", last_price, "#089981", 1, "dot")

# logo and badges
rect(2415, 31, 2461, 57, fillcolor="rgba(0,0,0,0)", line=dict(color="#333333", width=1.5))
shapes.append(dict(type="circle", xref="paper", yref="paper", x0=px(37), x1=px(56), y0=py(1188), y1=py(1207), fillcolor="#2a2a2a", line_width=0))
shapes.append(dict(type="circle", xref="paper", yref="paper", x0=px(2431), x1=px(2450), y0=py(1188), y1=py(1207), fillcolor="#2a2a2a", line_width=0))
rect(12, 1231, 27, 1237, fillcolor="#f0f0f0", line_width=0)
rect(20, 1231, 27, 1247, fillcolor="#f0f0f0", line_width=0)
shapes.append(dict(type="circle", xref="paper", yref="paper", x0=px(28), x1=px(33), y0=py(1231), y1=py(1236.5), fillcolor="#f0f0f0", line_width=0))
shapes.append(dict(type="path", xref="paper", yref="paper",
                   path=f"M {px(34)} {py(1231)} L {px(41)} {py(1231)} L {px(34)} {py(1247)} L {px(27)} {py(1247)} Z",
                   fillcolor="#f0f0f0", line_width=0))
fig.update_layout(shapes=shapes)

ann = []
def text(x, y, s, size=12, color=TXT, anchor="left"):
    ann.append(dict(xref="paper", yref="paper", x=px(x), y=py(y), text=s, showarrow=False, xanchor=anchor, yanchor="middle",
                    font=dict(family=FONT, size=size, color=color), align="left", borderpad=0))
def span(s, c): return f'<span style="color:{c}">{s}</span>'

text(10, 15, "savepiginvest created with TradingView.com, Jan 05, 2026 08:12 UTC+1", 12, "#d8d8d8")
text(90, 42, "Jiangsu Yahong Meditech Co., Ltd. Class A · 1D · SSE  O" + span("11.56", UP) + "  H" + span("11.81", UP) + "  L" + span("11.45", UP) + "  C" + span("11.72", UP) + "  " + span("+0.21 (+1.82%)", UP), 11.7)
text(90, 59, "VRVP  " + span("136.99M", "#1e88d0") + "  " + span("119.3M", "#e6b422") + "  " + span("266.28M", "#444444"))
text(90, 76, "Vol  " + span("10.75M", UP) + "  " + span("8.74M", "#ef8f4a"))
text(90, 93, "SMA  " + span("10.28", "#5b8fdc"))
text(90, 110, "SMA  " + span("9.94", "#2e2eff"))
text(90, 819, "RSI  " + span("68.15", "#ff6d00") + "  ∅  ∅")
text(90, 836, "Accum/Dist  " + span("−645.05M", "#7d7d12"))
text(90, 959, "MACD  " + span("0.10", "#26a69a") + "  " + span("0.38", "#2962ff") + "  " + span("0.28", "#ff6d00"))
text(90, 1081, "Stoch  " + span("95.28", "#2962ff") + "  " + span("87.26", "#ff6d00"))
text(2438, 44, "CNY", 12.5, "#c8c8c8", "center")
text(46.5, 1197.5, "Z", 11, "#777777", "center")
text(2440.5, 1197.5, "A", 11, "#777777", "center")
text(48, 1240, "<b>TradingView</b>", 19.5, "#f0f0f0")

def tag(y_val, s, bg, fg, w=43, size=12.5, h=17):
    ann.append(dict(xref="paper", yref="y", x=px(2412), y=y_val, text=s, showarrow=False, xanchor="left", yanchor="middle",
                    width=w, height=h, bgcolor=bg, font=dict(family=FONT, size=size, color=fg), align="center", borderpad=0))
for lv in cream_levels:
    if lv == 11.80:
        # pushed up by the last-price tag, as in the reference
        ann.append(dict(xref="paper", yref="paper", x=px(2412), y=py(181.5), text=f"{lv:.2f}", showarrow=False, xanchor="left", yanchor="top",
                        width=43, height=17, bgcolor="#fff9c4", font=dict(family=FONT, size=12.5, color="#131722"), align="center", borderpad=0))
    else:
        tag(lv, f"{lv:.2f}", "#fff9c4", "#131722", 43 if lv >= 10 else 36)
tag(level_fast, "10.28", "#5b9cf6", "#131722")
tag(level_slow, "9.95", "#2962ff", "#ffffff", 36)
ann.append(dict(xref="paper", yref="paper", x=px(2412), y=py(198), text="<b>11.72</b><br><span style='color:#b9e6dc'>32:40</span>", showarrow=False,
                xanchor="left", yanchor="top", width=43, height=31, bgcolor=UP, font=dict(family=FONT, size=12.5, color="#ffffff"), align="center", borderpad=0))
ann.append(dict(xref="paper", yref="paper", x=px(2365), y=py(198), text="688176", showarrow=False, xanchor="left", yanchor="top",
                width=46, height=17, bgcolor=UP, font=dict(family=FONT, size=12.5, color="#ffffff"), align="center", borderpad=0))
fig.update_layout(annotations=ann)

fig.write_html("out.html", config=dict(displayModeBar=False), post_script="document.body.style.margin='0';")
